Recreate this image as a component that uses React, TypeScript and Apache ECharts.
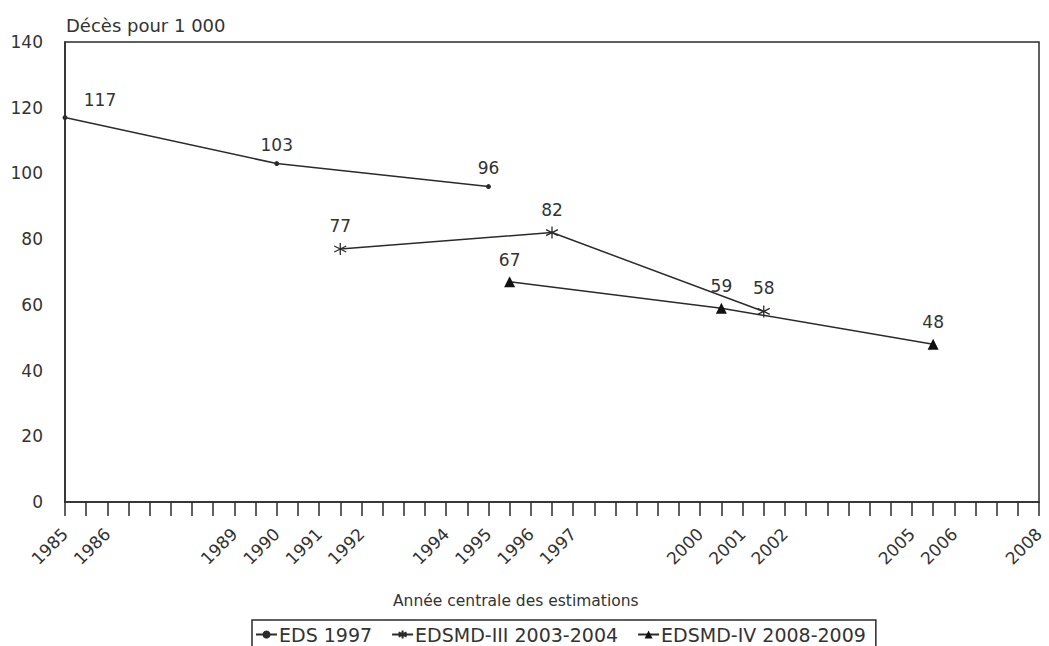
import React, { useEffect, useRef } from "react";
import * as echarts from "echarts";

const labelledYears = [1985, 1986, 1989, 1990, 1991, 1992, 1994, 1995, 1996, 1997, 2000, 2001, 2002, 2005, 2006, 2008];
const eds1997: [number, number][] = [[1985, 117], [1990, 103], [1995, 96]];
const edsmd3: [number, number][] = [[1991.5, 77], [1996.5, 82], [2001.5, 58]];
const edsmd4: [number, number][] = [[1995.5, 67], [2000.5, 59], [2005.5, 48]];
const seriesNames = ["EDS 1997", "EDSMD-III 2003-2004", "EDSMD-IV 2008-2009"];

const FONT = "'DejaVu Sans', sans-serif";
const INK = "#2b2b2b";
const TXT = "#333";
const STAR = "path://M0,-6L0,6M-5.2,-3L5.2,3M-5.2,3L5.2,-3";

export default function App() {
  const ref = useRef<HTMLDivElement>(null);
  useEffect(() => {
    document.body.style.margin = "0";
    const chart = echarts.init(ref.current!, null, { renderer: "svg" });
    const label = {
      show: true,
      position: "top" as const,
      distance: 8,
      color: TXT,
      fontSize: 17,
      fontFamily: FONT,
    };
    chart.setOption({
      animation: false,
      backgroundColor: "#fff",
      grid: {
        left: 65,
        right: 10,
        top: 42,
        bottom: 144,
        show: true,
        borderColor: INK,
        borderWidth: 1.5,
      },
      xAxis: {
        type: "value",
        min: 1985,
        max: 2008,
        interval: 0.5,
        splitLine: { show: false },
        axisLine: { lineStyle: { color: INK, width: 1.5 } },
        axisTick: { length: 14, lineStyle: { color: INK, width: 1.5 } },
        axisLabel: {
          rotate: 45,
          margin: 29,
          color: TXT,
          fontSize: 17,
          fontFamily: FONT,
          formatter: (v: number) => (labelledYears.includes(v) ? String(v) : ""),
        },
      },
      yAxis: {
        type: "value",
        min: 0,
        max: 140,
        interval: 20,
        splitLine: { show: false },
        axisLine: { show: true, lineStyle: { color: INK, width: 1.5 } },
        axisTick: { show: false },
        axisLabel: { margin: 22, color: TXT, fontSize: 17, fontFamily: FONT },
      },
      legend: {
        left: 252,
        top: 620,
        data: seriesNames,
        itemWidth: 21,
        itemHeight: 10,
        itemGap: 19,
        borderColor: INK,
        borderWidth: 1.5,
        borderRadius: 0,
        padding: [5, 10, 12, 3],
        textStyle: { color: TXT, fontSize: 19, fontFamily: FONT, padding: [0, 0, 0, -3] },
      },
      graphic: [
        {
          type: "text",
          left: 66,
          top: 16,
          style: { text: "Décès pour 1 000", fill: TXT, font: `18px ${FONT}` },
        },
        {
          type: "text",
          left: 393,
          top: 593,
          style: { text: "Année centrale des estimations", fill: TXT, font: `15.5px ${FONT}` },
        },
      ],
      series: [
        {
          name: seriesNames[0],
          type: "line",
          data: eds1997,
          symbol: "circle",
          symbolSize: 5,
          lineStyle: { color: INK, width: 1.5 },
          itemStyle: { color: INK },
          label: { ...label },
          labelLayout: (p: any) => (p.dataIndex === 0 ? { dx: 35, dy: 1 } : {}),
        },
        {
          name: seriesNames[1],
          type: "line",
          data: edsmd3,
          symbol: STAR,
          symbolSize: 12,
          lineStyle: { color: INK, width: 1.5 },
          itemStyle: { color: "none", borderColor: INK, borderWidth: 1.3 },
          label: { ...label, distance: 6 },
        },
        {
          name: seriesNames[2],
          type: "line",
          data: edsmd4,
          symbol: "triangle",
          symbolSize: 11,
          lineStyle: { color: INK, width: 1.5 },
          itemStyle: { color: "#111" },
          label: { ...label },
        },
      ],
    });
    return () => chart.dispose();
  }, []);
  return <div ref={ref} style={{ width: 1049, height: 646 }} />;
}
